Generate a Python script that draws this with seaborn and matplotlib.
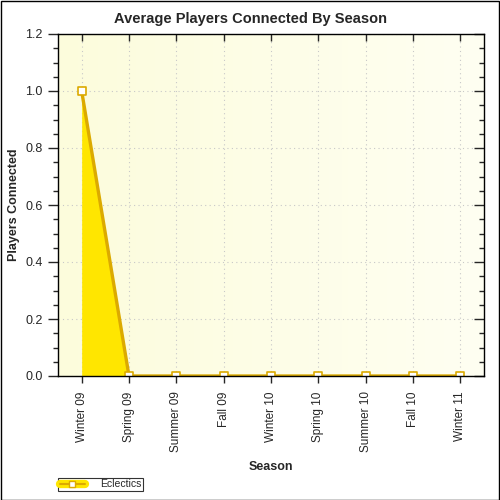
import numpy as np
import pandas as pd
import matplotlib
matplotlib.use("Agg")
import matplotlib.pyplot as plt
import seaborn as sns
from matplotlib.lines import Line2D
from matplotlib.ticker import MultipleLocator
from matplotlib.colors import LinearSegmentedColormap

seasons = ["Winter 09", "Spring 09", "Summer 09", "Fall 09", "Winter 10",
           "Spring 10", "Summer 10", "Fall 10", "Winter 11"]
players = [1.0, 0, 0, 0, 0, 0, 0, 0, 0]
series_name = "Eclectics"

df = pd.DataFrame({"x": np.arange(len(seasons)), "season": seasons, "players": players})

sns.set_style("white")
plt.rcParams['font.family'] = ['Liberation Sans', 'DejaVu Sans']

fig = plt.figure(figsize=(5, 5), dpi=100)
ax = fig.add_axes([0.116, 0.248, 0.852, 0.684])

# gradient background
grad = np.linspace(0, 1, 256).reshape(1, -1)
cmap = LinearSegmentedColormap.from_list("bg", ["#fcfcdc", "#fffff2"])
ax.imshow(grad, extent=[-0.5, 8.5, 0, 1.2], aspect="auto", cmap=cmap, zorder=0)

line_col = "#dcaa00"
fill_col = "#ffe600"
ax.fill_between(df["x"], df["players"], 0, color=fill_col, zorder=2, lw=0)
sns.lineplot(data=df, x="x", y="players", ax=ax, color=line_col, lw=2.4, zorder=3)
sns.scatterplot(data=df, x="x", y="players", ax=ax, marker="s", s=40,
                facecolor="white", edgecolor=line_col, linewidth=1.2, zorder=4)
sc = ax.collections[-1]
sc.set_clip_on(True)
sc.set_clip_path(ax.patch)

ax.set_xlim(-0.5, 8.5)
ax.set_ylim(0, 1.2)
ax.set_xticks(df["x"])
ax.set_xticklabels(seasons, rotation=90, fontsize=8.5)
ax.yaxis.set_major_locator(MultipleLocator(0.2))
ax.yaxis.set_minor_locator(MultipleLocator(0.05))
ax.set_yticks(ax.get_yticks())
ax.set_yticklabels([f"{v:.1f}" for v in ax.get_yticks()], fontsize=9)
ax.set_ylim(0, 1.2)
ax.tick_params(axis="y", which="major", direction="out", length=7, width=1, left=True, right=True, pad=4)
ax.tick_params(axis="y", which="minor", direction="out", length=3.5, width=1, left=True, right=True)
ax.tick_params(axis="x", direction="out", length=5, width=1, bottom=True, top=True, pad=6)
for t in ax.yaxis.get_major_ticks() + ax.yaxis.get_minor_ticks():
    t.tick2line.set_marker(matplotlib.lines.TICKLEFT)
for t in ax.xaxis.get_major_ticks():
    t.tick2line.set_marker(matplotlib.lines.TICKDOWN)

ax.set_axisbelow(True)
ax.grid(True, which="major", color="#c8c8c8", linestyle=(0, (1, 3)), lw=0.8)
for s in ax.spines.values():
    s.set_color("black")
    s.set_linewidth(1)
    s.set_zorder(6)

ax.set_xlabel("Season", fontsize=9, fontweight="bold", labelpad=6)
ax.set_ylabel("Players Connected", fontsize=9, fontweight="bold", labelpad=4)
fig.suptitle("Average Players Connected By Season", fontsize=10.5, fontweight="bold", y=0.976)

handle = (Line2D([], [], color=fill_col, lw=6),
          Line2D([], [], color=line_col, lw=1.5, marker="s", markersize=5,
                 markerfacecolor="white", markeredgecolor=line_col))
leg = fig.legend([handle], [series_name], loc="lower left",
                 bbox_to_anchor=(0.116, 0.018), fontsize=7.5, frameon=True,
                 fancybox=False, edgecolor="black", borderpad=0.15,
                 handlelength=2.4, handletextpad=1.5, borderaxespad=0)
leg.get_frame().set_linewidth(0.8)

fig.patches.append(plt.Rectangle((0.001, 0.001), 0.997, 0.997, transform=fig.transFigure,
                                 fill=False, edgecolor="black", lw=1))
fig.savefig("out.png", dpi=100)
